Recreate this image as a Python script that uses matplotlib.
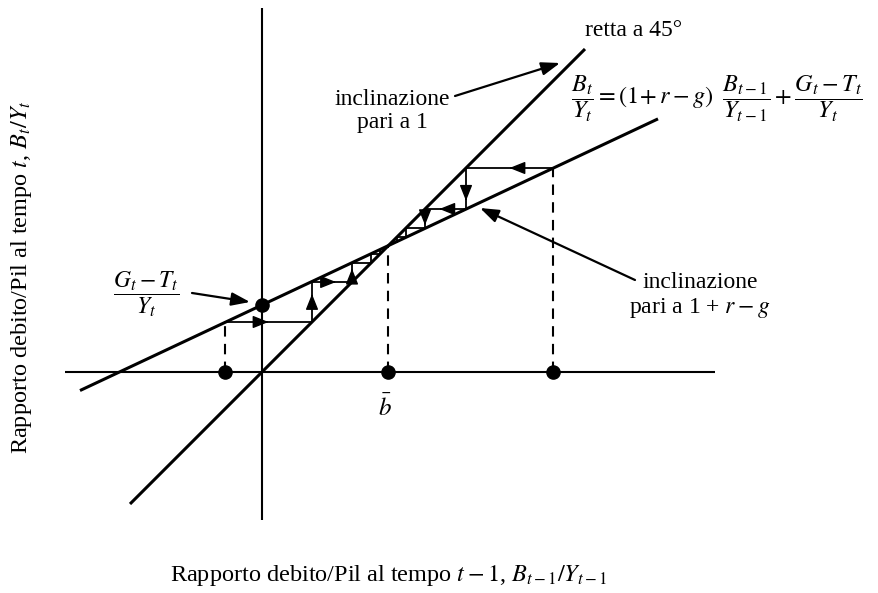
import matplotlib
matplotlib.use("Agg")
import matplotlib.pyplot as plt

plt.rcParams['mathtext.fontset'] = 'stix'
plt.rcParams['font.family'] = ['Liberation Serif', 'DejaVu Serif']

# ---- data (diagram units, origin at the axes crossing) ----
slope = 0.47            # 1 + r - g
intercept = 67          # (G_t - T_t)/Y_t
line_lower_x = [-182, 396]
line_45_x = [-132, 323]
axis_x = [-197, 453]
axis_y = [-148, 364]
right_steps = [291, 204, 163, 144, 135, 130]
left_steps = [-37, 50, 90, 109, 118, 122]
right_arrow_frac = [0.5, 0.8, 0.65, 0.85]
left_arrow_frac = [0.5, 0.7, 0.6, 0.7]
b_bar = intercept / (1 - slope)

fig = plt.figure(figsize=(8.79, 5.93), dpi=100)
ax = fig.add_axes([0, 0, 1, 1])
ax.set_xlim(-262, 617)
ax.set_ylim(-221, 372)
ax.axis('off')

k = dict(color='black', solid_capstyle='butt')
# axes
ax.plot(axis_x, [0, 0], lw=1.5, **k)
ax.plot([0, 0], axis_y, lw=1.5, **k)
# lines
ax.plot(line_45_x, line_45_x, lw=2.2, **k)
ax.plot(line_lower_x, [intercept + slope * x for x in line_lower_x], lw=2.2, **k)

ahead = dict(arrowstyle='-|>,head_length=0.6,head_width=0.24', color='black',
             lw=1.0, mutation_scale=16, shrinkA=0, shrinkB=0)


def arrowhead(p0, p1, frac):
    tx = p0[0] + (p1[0] - p0[0]) * frac
    ty = p0[1] + (p1[1] - p0[1]) * frac
    dx = (p1[0] - p0[0]); dy = (p1[1] - p0[1])
    n = (dx ** 2 + dy ** 2) ** 0.5
    ax.annotate('', xy=(tx, ty), xytext=(tx - dx / n * 2, ty - dy / n * 2),
                arrowprops=ahead)


def cobweb(steps, fracs):
    x0, x1 = steps[0], steps[1]
    ax.plot([x0, x0], [0, x1], lw=1.5, ls=(0, (5, 3.5)), color='black')
    pts = [(x0, x1)]
    for i in range(1, len(steps) - 1):
        pts.append((steps[i], steps[i]))
        pts.append((steps[i], steps[i + 1]))
    ax.plot([p[0] for p in pts], [p[1] for p in pts], lw=1.3, color='black')
    for j, f in enumerate(fracs):
        arrowhead(pts[j], pts[j + 1], f)


cobweb(right_steps, right_arrow_frac)
cobweb(left_steps, left_arrow_frac)

# dashed at b_bar
ax.plot([b_bar, b_bar], [0, b_bar], lw=1.5, ls=(0, (5, 3.5)), color='black')

# dots
ax.plot([0, left_steps[0], b_bar, right_steps[0]], [intercept, 0, 0, 0], 'o',
        color='black', ms=9.5)

fs = 17
ptr = dict(arrowstyle='-|>,head_length=0.7,head_width=0.25', color='black',
           lw=1.6, mutation_scale=16, shrinkA=0, shrinkB=0)

ax.text(323, 342, 'retta a 45°', fontsize=fs, ha='left', va='center')
ax.text(130, 261, 'inclinazione\npari a 1', fontsize=fs, ha='center', va='center',
        multialignment='center', linespacing=1.15)
ax.annotate('', xy=(298, 309), xytext=(193, 276), arrowprops=ptr)

ax.text(309, 273, r'$\dfrac{B_t}{Y_t} = (1\!+ r - g)\;\;\dfrac{B_{t-1}}{Y_{t-1}} + \dfrac{G_t - T_t}{Y_t}$',
        fontsize=17.5, ha='left', va='center')

ax.text(438, 76, 'inclinazione\npari a 1 + $r - g$', fontsize=fs, ha='center', va='center',
        multialignment='center', linespacing=1.15)
ax.annotate('', xy=(218, 164), xytext=(373, 92), arrowprops=ptr)

ax.text(-116, 78, r'$\dfrac{G_t - T_t}{Y_t}$', fontsize=17, ha='center', va='center')
ax.annotate('', xy=(-12, 70), xytext=(-70, 79), arrowprops=ptr)

ax.text(b_bar - 3, -36, r'$\bar{b}$', fontsize=18, ha='center', va='center')

ax.text(127, -204, r'Rapporto debito/Pil al tempo $t - 1$, $B_{t-1}/Y_{t-1}$',
        fontsize=17.5, ha='center', va='center')
ax.text(-240, 95, r'Rapporto debito/Pil al tempo $t$, $B_t/Y_t$',
        fontsize=17.5, ha='center', va='center', rotation=90)

fig.savefig('out.png', dpi=100)
